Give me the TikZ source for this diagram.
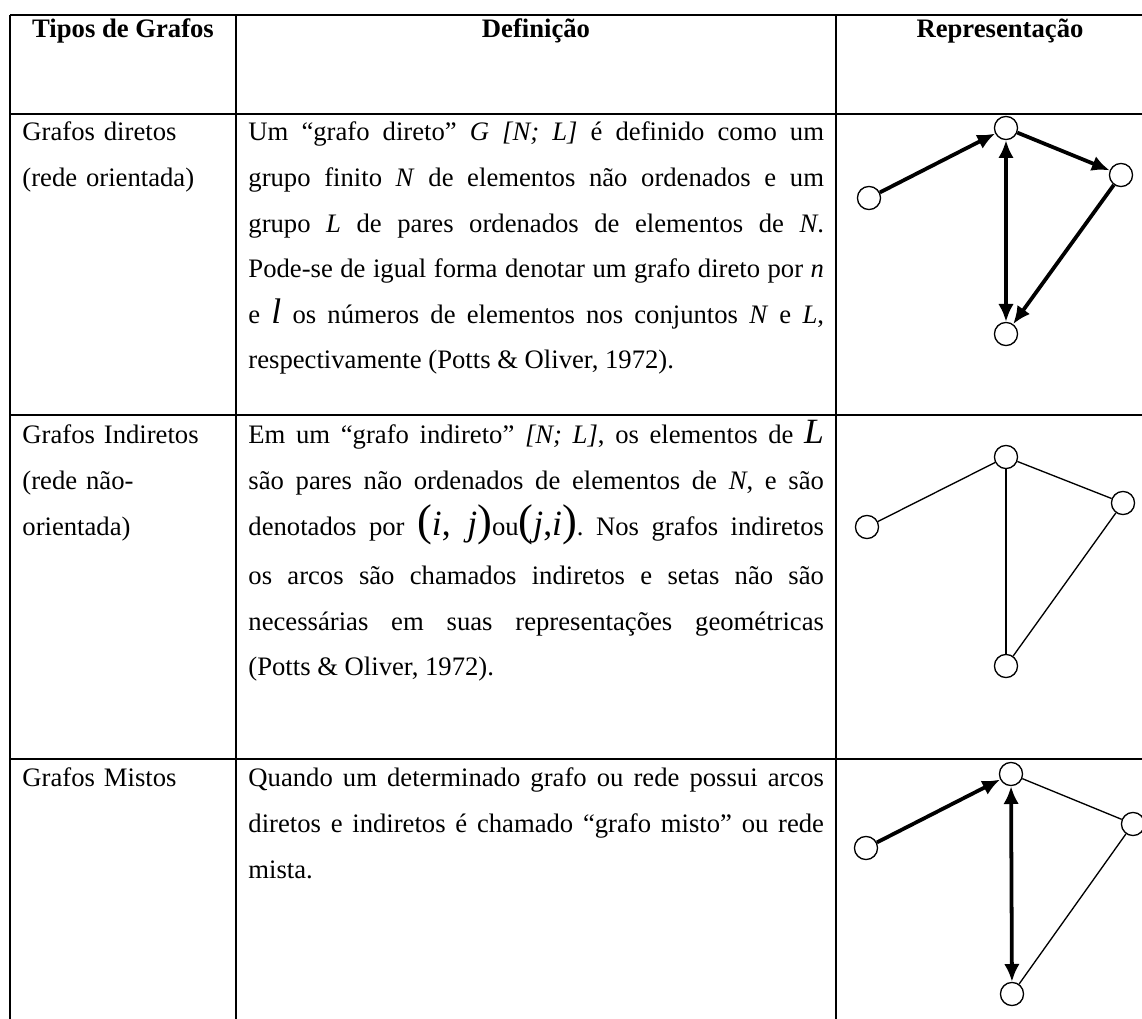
\documentclass[tikz,border=0pt]{standalone}
\usepackage{fontspec}
\setmainfont{Liberation Serif}
\usepackage{tikz}
\usetikzlibrary{arrows.meta}
\tolerance=9999
\emergencystretch=3em
\hyphenpenalty=10000
\frenchspacing
\newcommand\grande[1]{{\fontsize{16}{16}\selectfont #1}}
\newcommand\parA[1]{{\fontsize{20}{20}\selectfont #1}}
\tikzset{
	borda/.style={line width=0.8pt},
	vertice/.style={circle, draw, line width=0.6pt, fill=white, minimum size=10.4pt, inner sep=0pt},
	aresta/.style={line width=0.6pt},
	arco/.style={-{Latex[length=8pt,width=7pt]}, line width=1.7pt}, % arco orientado
	arcoduplo/.style={{Latex[length=8pt,width=7pt]}-{Latex[length=8pt,width=7pt]}, line width=1.7pt},
	titulo/.style={anchor=base, inner sep=0pt, font=\fontsize{12}{20.5}\selectfont\bfseries},
	tipo/.style={anchor=base west, inner sep=0pt, text width=95pt, align=left, font=\fontsize{12}{20.5}\selectfont},
	definicao/.style={anchor=base west, inner sep=0pt, text width=259pt, align=justify, font=\fontsize{12}{20.5}\selectfont},
}

\begin{document}
\begin{tikzpicture}[x=0.45pt, y=-0.45pt]
	\useasboundingbox (0,0) rectangle (1142,1019);

	% linhas da tabela
	\foreach \yy in {15,114,415,759}
		\draw[borda] (10,\yy) -- (1142,\yy);
	\foreach \xx in {10,236,836}
		\draw[borda] (\xx,15) -- (\xx,1019);

	% cabecalho
	\node[titulo] (tit1) at (123,38) {Tipos de Grafos};
	\node[titulo] (tit2) at (536,38) {Definição};
	\node[titulo] (tit3) at (1000,38) {Representação};

	% primeira coluna
	\node[tipo] (tipo1) at (22,141) {Grafos diretos\\(rede orientada)};
	\node[tipo] (tipo2) at (22,444) {Grafos Indiretos\\(rede não-\\orientada)};
	\node[tipo] (tipo3) at (22,787) {Grafos Mistos};

	% segunda coluna
	\node[definicao] (def1) at (248,141) {Um “grafo direto” \textit{G [N; L]} é definido como um\linebreak
		grupo finito \textit{N} de elementos não ordenados e um\linebreak
		grupo \textit{L} de pares ordenados de elementos de \textit{N}.\linebreak
		Pode-se de igual forma denotar um grafo direto por \textit{n}\linebreak
		e \grande{\textit{l}} os números de elementos nos conjuntos \textit{N} e \textit{L},\linebreak
		respectivamente (Potts \& Oliver, 1972).};
	\node[definicao] (def2) at (248,444) {Em um “grafo indireto” \textit{[N; L]}, os elementos de \grande{\textit{L}}\linebreak
		são pares não ordenados de elementos de \textit{N}, e são\linebreak
		\rule[-13pt]{0pt}{21pt}denotados por \parA{(}\grande{\textit{i}, \textit{j}}\parA{)}ou\parA{(}\grande{\textit{j},\textit{i}}\parA{)}. Nos grafos indiretos\linebreak
		os arcos são chamados indiretos e setas não são\linebreak
		necessárias em suas representações geométricas\linebreak
		(Potts \& Oliver, 1972).};
	\node[definicao] (def3) at (248,787) {Quando um determinado grafo ou rede possui arcos\linebreak
		diretos e indiretos é chamado “grafo misto” ou rede\linebreak
		mista.};

	% grafo direto
	\node[vertice] (a1) at (869,198) {};
	\node[vertice] (b1) at (1006,128) {};
	\node[vertice] (c1) at (1121,175) {};
	\node[vertice] (d1) at (1006,334) {};
	\draw[arco] (a1) -- (b1);
	\draw[arco] (b1) -- (c1);
	\draw[arco] (c1) -- (d1);
	\draw[arcoduplo] (b1) -- (d1);

	% grafo indireto
	\node[vertice] (a2) at (867,527) {};
	\node[vertice] (b2) at (1006,457) {};
	\node[vertice] (c2) at (1123,503) {};
	\node[vertice] (d2) at (1006,666) {};
	\draw[aresta] (a2) -- (b2);
	\draw[aresta] (b2) -- (c2);
	\draw[aresta] (b2) -- (d2);
	\draw[aresta] (c2) -- (d2);

	% grafo misto
	\node[vertice] (a3) at (866,848) {};
	\node[vertice] (b3) at (1011,774) {};
	\node[vertice] (c3) at (1133,824) {};
	\node[vertice] (d3) at (1012,994) {};
	\draw[arco] (a3) -- (b3);
	\draw[arcoduplo] (b3) -- (d3);
	\draw[aresta] (b3) -- (c3);
	\draw[aresta] (c3) -- (d3);
\end{tikzpicture}
\end{document}
